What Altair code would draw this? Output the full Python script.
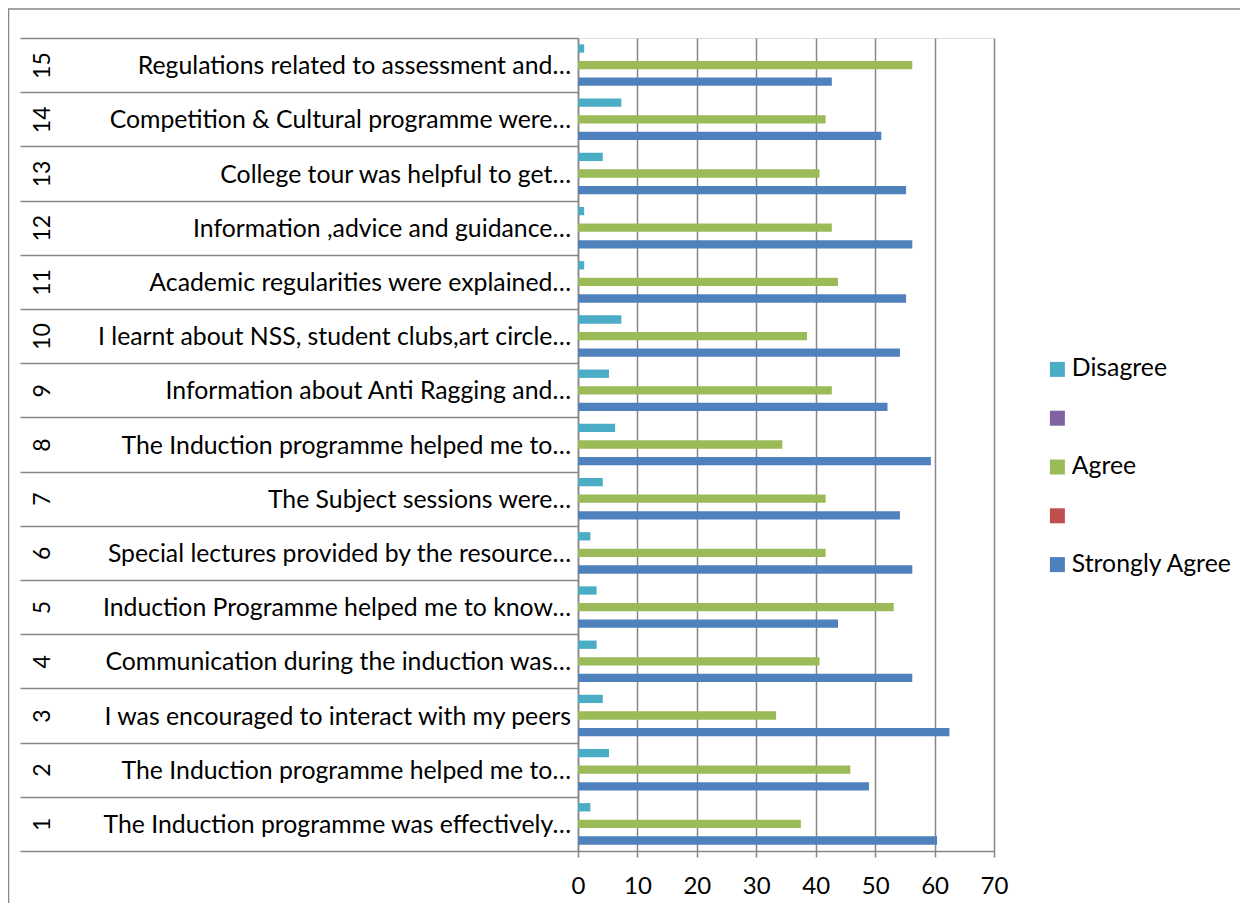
import altair as alt
import pandas as pd

FONT = "Lato"
GRAY = "#868686"

nums = [str(i) for i in range(1, 16)]
statements = [
    "The Induction programme was effectively…",
    "The Induction programme helped me to…",
    "I was encouraged to interact with my peers\u00a0",
    "Communication during the induction was…",
    "Induction Programme helped me to know…",
    "Special lectures provided by the resource…",
    "The Subject sessions were…",
    "The Induction programme helped me to…",
    "Information about Anti Ragging and…",
    "I learnt about NSS, student clubs,art circle…",
    "Academic regularities were explained…",
    "Information ,advice and guidance…",
    "College tour was helpful to get…",
    "Competition & Cultural programme were…",
    "Regulations related to assessment and…",
]
strongly_agree = [60.42, 48.96, 62.50, 56.25, 43.75, 56.25, 54.17, 59.38, 52.08, 54.17, 55.21, 56.25, 55.21, 51.04, 42.71]
agree = [37.50, 45.83, 33.33, 40.63, 53.13, 41.67, 41.67, 34.38, 42.71, 38.54, 43.75, 42.71, 40.63, 41.67, 56.25]
disagree = [2.08, 5.21, 4.17, 3.13, 3.13, 2.08, 4.17, 6.25, 5.21, 7.29, 1.04, 1.04, 4.17, 7.29, 1.04]

series_names = ["Disagree", " ", "Agree", "  ", "Strongly Agree"]
series_colors = ["#4BACC6", "#8064A2", "#9BBB59", "#C0504D", "#4F81BD"]
x_ticks = [0, 10, 20, 30, 40, 50, 60, 70]

rows = []
for i, n in enumerate(nums):
    for s, vals in (("Strongly Agree", strongly_agree), ("Agree", agree), ("Disagree", disagree)):
        rows.append({"item": n, "series": s, "value": vals[i]})
bars_df = pd.DataFrame(rows)
labels_df = pd.DataFrame({"item": nums, "statement": statements})

y_scale = alt.Scale(domain=nums[::-1], paddingInner=0, paddingOuter=0)
y_axis = alt.Axis(
    title=None, labelAngle=270, labelAlign="center", labelBaseline="middle",
    labelFontSize=23, labelFont=FONT, labelColor="#000000",
    tickBand="extent", tickSize=558, tickColor=GRAY, tickWidth=1.5,
    labelPadding=-22, domainColor=GRAY, domainWidth=1.5, grid=False,
)
x_axis = alt.Axis(
    title=None, values=x_ticks, grid=True, gridColor=GRAY, gridWidth=1.5,
    tickSize=6, tickColor=GRAY, tickWidth=1.5, domainColor=GRAY, domainWidth=1.5,
    labelFontSize=24, labelFont=FONT, labelColor="#000000", labelPadding=17,
    labelFlush=False,
)

bars = alt.Chart(bars_df).mark_bar().encode(
    x=alt.X("value:Q", scale=alt.Scale(domain=[0, 70], nice=False), axis=x_axis),
    y=alt.Y("item:N", scale=y_scale, axis=y_axis),
    yOffset=alt.YOffset("series:N", scale=alt.Scale(domain=series_names, paddingOuter=0.765)),
    color=alt.Color(
        "series:N",
        scale=alt.Scale(domain=series_names, range=series_colors),
        legend=alt.Legend(
            title=None, orient="none", legendX=467, legendY=319,
            symbolType="square", symbolSize=225, symbolStrokeWidth=0,
            labelFontSize=24.8, labelFont=FONT, labelColor="#000000",
            labelOffset=2, labelLimit=400, rowPadding=22.8, padding=0,
        ),
    ),
)

text = alt.Chart(labels_df).mark_text(
    align="right", baseline="middle", fontSize=24.8, font=FONT, color="#000000", dy=2
).encode(
    y=alt.Y("item:N", scale=y_scale, axis=y_axis),
    x=alt.value(-7),
    text="statement:N",
)

one = pd.DataFrame({"k": [0]})
top_border = alt.Chart(one).mark_rule(color=GRAY, strokeWidth=1.5).encode(
    x=alt.value(-570), x2=alt.value(662), y=alt.value(-29)
)
left_border = alt.Chart(one).mark_rule(color=GRAY, strokeWidth=1.5).encode(
    x=alt.value(-569.5), y=alt.value(-29), y2=alt.value(865)
)

chart = alt.layer(bars, text, top_border, left_border).properties(
    width=416, height=813,
    autosize=alt.AutoSizeParams(type="none"),
    padding={"left": 570, "top": 30, "right": 246, "bottom": 52},
).configure_view(stroke=None).configure(font=FONT, background="white")

chart.save("out.html", embed_options={"renderer": "svg", "actions": False})
